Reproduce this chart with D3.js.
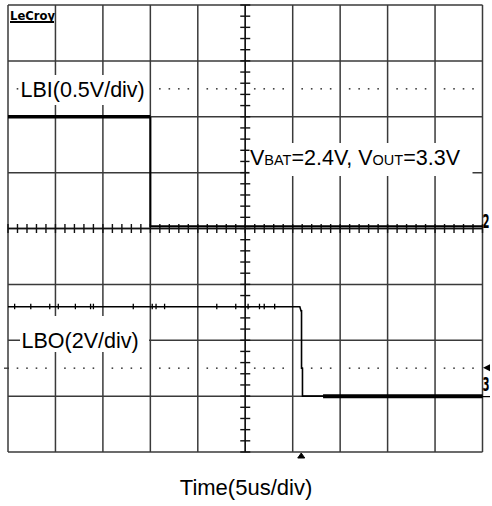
<!DOCTYPE html>
<html>
<head>
<meta charset="utf-8">
<script src="https://cdn.jsdelivr.net/npm/d3@7"></script>
<style>
  html, body { margin: 0; padding: 0; background: #fff; }
  svg { display: block; }
</style>
</head>
<body>
<svg id="scope" width="492" height="506"></svg>
<script>
// Time base: 10 divisions of 5 us
const timeDomainUs = [0, 50];
const hDivisions = 10;
const vDivisions = 8;

// Channel 2: LBI, 0.5 V/div, ground at the centre line
const lbiVoltsPerDiv = 0.5;
const lbiOffsetDiv = 0;
const lbiTimeUs = [0, 15.0, 15.0, 50];
const lbiVolts  = [1.0, 1.0, 0.02, 0.02];

// Channel 3: LBO, 2 V/div, ground 2.5 div below centre
const lboVoltsPerDiv = 2;
const lboOffsetDiv = -2.5;
const lboTimeUs = [0, 30.75, 30.88, 30.93, 30.93, 31.03, 31.03, 50];
const lboVolts  = [2.2, 2.2, 2.05, 2.05, 0.0, 0.0, -1.0, -1.0];
// small spikes seen on the LBO high level
const lboGlitchUs = [0.7, 2.4, 4.4, 5.3, 7.1, 8.7, 9.0, 13.2, 15.2, 15.6, 16.5, 22.0, 24.0, 25.3, 26.5, 27.0, 28.1];
// wider noise band on the LBO low level
const lboNoiseBandUs = [33.2, 50];

// dotted cursor rows (in divisions from centre) and trigger point
const cursorDivs = [2.5, -2.5];
const triggerUs = 30.9;

const labelLBI = "LBI(0.5V/div)";
const labelLBO = "LBO(2V/div)";
const labelTime = "Time(5us/div)";

const svg = d3.select("#scope");
const font = "'Liberation Sans', Arial, Helvetica, sans-serif";

const x = d3.scaleLinear().domain(timeDomainUs).range([8, 482.5]);
const yDiv = d3.scaleLinear().domain([-vDivisions / 2, vDivisions / 2]).range([452, 5]);
const divW = (x.range()[1] - x.range()[0]) / hDivisions;
const usPerDiv = (timeDomainUs[1] - timeDomainUs[0]) / hDivisions;

const yLBI = v => yDiv(v / lbiVoltsPerDiv + lbiOffsetDiv);
const yLBO = v => yDiv(v / lboVoltsPerDiv + lboOffsetDiv);

// ---- graticule ----
const grid = svg.append("g").attr("stroke", "#3a3a3a").attr("stroke-width", 1.5).attr("fill", "none");
d3.range(hDivisions + 1).forEach(i => {
  const xx = x(i * usPerDiv);
  grid.append("line").attr("x1", xx).attr("x2", xx).attr("y1", yDiv(4)).attr("y2", yDiv(-4));
});
d3.range(vDivisions + 1).forEach(j => {
  const yy = yDiv(j - vDivisions / 2);
  grid.append("line").attr("x1", x(0)).attr("x2", x(50)).attr("y1", yy).attr("y2", yy);
});

// dotted cursor rows
const dots = svg.append("g").attr("fill", "#444");
cursorDivs.forEach(d => {
  const yy = yDiv(d);
  d3.range(hDivisions).forEach(i => {
    [0.2, 0.4, 0.6, 0.8].forEach(f => {
      dots.append("rect")
        .attr("x", x(i * usPerDiv) + f * divW - 0.8)
        .attr("y", yy - 0.8)
        .attr("width", 1.6).attr("height", 1.6);
    });
  });
});
// small left-edge cursor mark
svg.append("line").attr("x1", 4).attr("x2", 9)
  .attr("y1", yDiv(-2.5)).attr("y2", yDiv(-2.5))
  .attr("stroke", "#333").attr("stroke-width", 1.3);

// centre axes with minor ticks
const axes = svg.append("g").attr("stroke", "#111").attr("stroke-width", 1.4);
const xc = x(25), yc = yDiv(0);
axes.append("line").attr("x1", xc).attr("x2", xc).attr("y1", yDiv(4)).attr("y2", yDiv(-4));
axes.append("line").attr("x1", x(0)).attr("x2", x(50)).attr("y1", yc).attr("y2", yc);
d3.range(0, timeDomainUs[1] + 0.001, usPerDiv / 5).forEach(t => {
  axes.append("line").attr("x1", x(t)).attr("x2", x(t)).attr("y1", yc - 4.5).attr("y2", yc + 4.5);
});
d3.range(-4, 4.001, 0.2).forEach(d => {
  axes.append("line").attr("x1", xc - 5).attr("x2", xc + 5).attr("y1", yDiv(d)).attr("y2", yDiv(d));
});

// ---- traces ----
const lbiPts = lbiTimeUs.map((t, i) => [x(t), yLBI(lbiVolts[i])]);
const lboPts = lboTimeUs.map((t, i) => [x(t), yLBO(lboVolts[i])]);
const line = d3.line();

svg.append("path").attr("d", line(lbiPts.slice(0, 2)))
  .attr("stroke", "#000").attr("stroke-width", 3.6).attr("fill", "none");
svg.append("path").attr("d", line(lbiPts.slice(1)))
  .attr("stroke", "#000").attr("stroke-width", 2).attr("fill", "none");

svg.append("path").attr("d", line(lboPts))
  .attr("stroke", "#000").attr("stroke-width", 1.6).attr("fill", "none");
svg.append("line")
  .attr("x1", x(lboNoiseBandUs[0])).attr("x2", x(lboNoiseBandUs[1]))
  .attr("y1", yLBO(-1.0)).attr("y2", yLBO(-1.0))
  .attr("stroke", "#000").attr("stroke-width", 4);
svg.append("g").attr("stroke", "#000").attr("stroke-width", 1.3)
  .selectAll("line").data(lboGlitchUs).join("line")
  .attr("x1", d => x(d)).attr("x2", d => x(d))
  .attr("y1", yLBO(2.2) - 3).attr("y2", yLBO(2.2) + 2.5);

// ---- labels with white backing ----
function backing(x0, y0, w, h) {
  svg.append("rect").attr("x", x0).attr("y", y0).attr("width", w).attr("height", h).attr("fill", "#fff");
}
backing(19, 75, 130, 30);
svg.append("text").attr("x", 20.5).attr("y", 97).attr("font-family", font).attr("font-size", 21.5)
  .attr("fill", "#000").text(labelLBI);

backing(20, 316, 129, 36);
svg.append("text").attr("x", 21.5).attr("y", 348).attr("font-family", font).attr("font-size", 21.5)
  .attr("fill", "#000").text(labelLBO);

backing(249.5, 143, 223, 33);
const vt = svg.append("text").attr("x", 250).attr("y", 165).attr("font-family", font)
  .attr("font-size", 21.5).attr("fill", "#000");
vt.append("tspan").text("V");
vt.append("tspan").attr("font-size", 14.5).text("BAT");
vt.append("tspan").text("=2.4V, V");
vt.append("tspan").attr("font-size", 14.5).text("OUT");
vt.append("tspan").text("=3.3V");

// ---- instrument marks ----
svg.append("text").attr("x", 10).attr("y", 19.5)
  .attr("font-family", "'DejaVu Sans Condensed', 'DejaVu Sans', sans-serif")
  .attr("font-weight", "bold").attr("font-size", 13)
  .attr("textLength", 45).attr("lengthAdjust", "spacingAndGlyphs")
  .attr("fill", "#000").text("LeCroy");
svg.append("line").attr("x1", 10).attr("x2", 54).attr("y1", 22).attr("y2", 22)
  .attr("stroke", "#000").attr("stroke-width", 2);

// channel reference markers, squeezed into the right margin
const markFont = "'DejaVu Sans', Arial, sans-serif";
svg.append("text").attr("x", 482.5).attr("y", yDiv(lbiOffsetDiv) - 1)
  .attr("font-family", markFont).attr("font-weight", "bold").attr("font-size", 20)
  .attr("textLength", 7).attr("lengthAdjust", "spacingAndGlyphs")
  .attr("fill", "#000").text("2");
svg.append("path")
  .attr("d", `M483,${yDiv(lboOffsetDiv) - 0.5} L490,${yDiv(lboOffsetDiv) - 4} L490,${yDiv(lboOffsetDiv) + 3}Z`)
  .attr("fill", "#000");
svg.append("text").attr("x", 482.5).attr("y", yDiv(lboOffsetDiv) + 23)
  .attr("font-family", markFont).attr("font-weight", "bold").attr("font-size", 20)
  .attr("textLength", 7).attr("lengthAdjust", "spacingAndGlyphs")
  .attr("fill", "#000").text("3");
svg.append("line").attr("x1", 482).attr("x2", 490)
  .attr("y1", yLBO(-1.0) + 0.5).attr("y2", yLBO(-1.0) + 0.5)
  .attr("stroke", "#000").attr("stroke-width", 1.2);

// trigger position marker
const tx = x(triggerUs);
svg.append("path").attr("d", `M${tx - 3.5},458 L${tx},453 L${tx + 3.5},458Z`)
  .attr("fill", "#000").attr("stroke", "#000").attr("stroke-width", 1).attr("stroke-linejoin", "round");

// time base caption
svg.append("text").attr("x", 246).attr("y", 495).attr("text-anchor", "middle")
  .attr("font-family", font).attr("font-size", 22).attr("fill", "#000").text(labelTime);
</script>
</body>
</html>
